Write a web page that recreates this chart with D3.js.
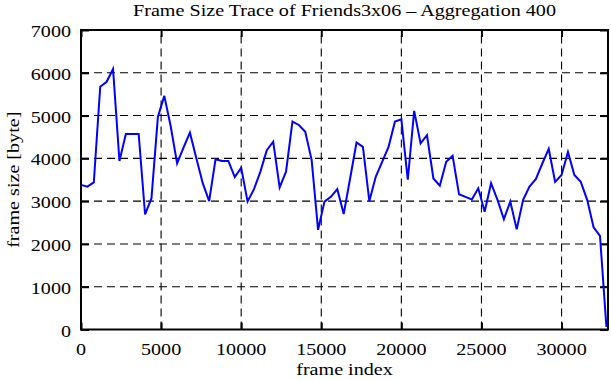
<!DOCTYPE html>
<html><head><meta charset="utf-8">
<script src="https://cdn.jsdelivr.net/npm/d3@7"></script>
<style>
body{margin:0;background:#fff}
text{font-family:"Liberation Serif","Times New Roman",serif;fill:#000}
</style>
</head><body>
<svg id="c" width="611" height="380"></svg>
<script>
// ---- data ----
const aggregation = 400;
const frameSizes = [
  3380, 3340, 3440, 5675, 5790, 6090, 3940, 4570, 4570, 4570,
  2690, 3070, 4970, 5460, 4750, 3880, 4250, 4600, 4000, 3420,
  3000, 3980, 3940, 3940, 3560, 3780, 2990, 3280, 3690, 4190,
  4390, 3320, 3690, 4860, 4780, 4620, 3960, 2330, 2990, 3100,
  3280, 2700, 3530, 4370, 4270, 3000, 3570, 3920, 4270, 4860,
  4910, 3500, 5110, 4350, 4540, 3530, 3360, 3920, 4060, 3160,
  3100, 3040, 3300, 2750, 3420, 3030, 2580, 2990, 2340, 3030,
  3340, 3520, 3880, 4220, 3450, 3610, 4150, 3610, 3450, 3030,
  2390, 2190, 60
];
const frameIndex = frameSizes.map((_, i) => i * aggregation);
const xTicks = [0, 5000, 10000, 15000, 20000, 25000, 30000];
const yTicks = [0, 1000, 2000, 3000, 4000, 5000, 6000, 7000];
const xMax = 32900;
const yMax = 7000;
const titleText = "Frame Size Trace of Friends3x06 \u2013 Aggregation 400";
const xLabelText = "frame index";
const yLabelText = "frame size [byte]";

// ---- layout ----
const L = 81, R = 608, T = 30, B = 329.5;
const SX = 1.22;          // horizontal stretch of the original lettering
const FS = 16.5;

const svg = d3.select("#c");
const x = d3.scaleLinear().domain([0, xMax]).range([L, R]);
const y = d3.scaleLinear().domain([0, yMax]).range([B, T]);

// grid
const grid = svg.append("g").attr("stroke", "#000").attr("stroke-width", 1.1)
  .attr("stroke-dasharray", "8,5");
grid.selectAll(".gx").data(xTicks.filter(v => v > 0)).join("line")
  .attr("x1", d => x(d)).attr("x2", d => x(d)).attr("y1", y(0)).attr("y2", y(yMax));
grid.selectAll(".gy").data(yTicks.filter(v => v > 0 && v < yMax)).join("line")
  .attr("y1", d => y(d)).attr("y2", d => y(d)).attr("x1", x(0)).attr("x2", x(xMax));

// axes (inward ticks, all four sides)
function styleAxis(g) {
  g.select(".domain").remove();
  g.selectAll(".tick line").attr("stroke", "#000").attr("stroke-width", 2);
  g.selectAll(".tick text").remove();
}
svg.append("g").attr("transform", `translate(0,${y(0)})`)
  .call(d3.axisBottom(x).tickValues(xTicks).tickSize(-7).tickSizeOuter(0)).call(styleAxis);
svg.append("g").attr("transform", `translate(0,${y(yMax)})`)
  .call(d3.axisTop(x).tickValues(xTicks).tickSize(-7).tickSizeOuter(0)).call(styleAxis);
svg.append("g").attr("transform", `translate(${x(0)},0)`)
  .call(d3.axisLeft(y).tickValues(yTicks).tickSize(-8).tickSizeOuter(0)).call(styleAxis);
svg.append("g").attr("transform", `translate(${x(xMax)},0)`)
  .call(d3.axisRight(y).tickValues(yTicks).tickSize(-8).tickSizeOuter(0)).call(styleAxis);

// line
svg.append("path")
  .datum(frameSizes.map((v, i) => [frameIndex[i], v]))
  .attr("fill", "none").attr("stroke", "#0000ff").attr("stroke-width", 2)
  .attr("stroke-linejoin", "miter")
  .attr("d", d3.line().x(d => x(d[0])).y(d => y(d[1])));

// frame
svg.append("rect").attr("x", L).attr("y", T).attr("width", R - L).attr("height", B - T)
  .attr("fill", "none").attr("stroke", "#000").attr("stroke-width", 2);

// tick labels
svg.append("g").selectAll("g").data(xTicks).join("g")
  .attr("transform", d => `translate(${x(d)},355) scale(${SX},1)`)
  .append("text").attr("text-anchor", "middle").attr("font-size", FS).text(d => d);
svg.append("g").selectAll("g").data(yTicks).join("g")
  .attr("transform", d => `translate(71,${y(d) + 7}) scale(${SX},1)`)
  .append("text").attr("text-anchor", "end").attr("font-size", FS).text(d => d);

// titles
svg.append("g").attr("transform", `translate(${(L + R) / 2},16) scale(${SX},1)`)
  .append("text").attr("text-anchor", "middle").attr("font-size", FS).text(titleText);
svg.append("g").attr("transform", `translate(${(L + R) / 2},375) scale(${SX},1)`)
  .append("text").attr("text-anchor", "middle").attr("font-size", FS).text(xLabelText);
svg.append("g").attr("transform", `translate(19,${(T + B) / 2}) rotate(-90) scale(${SX},1)`)
  .append("text").attr("text-anchor", "middle").attr("font-size", FS).text(yLabelText);
</script>
</body></html>
